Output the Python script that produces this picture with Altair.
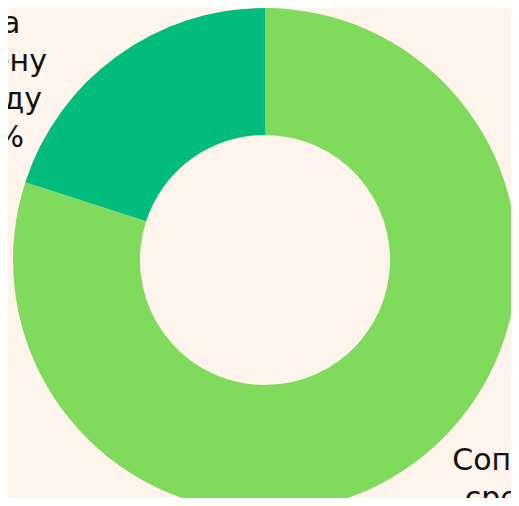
import altair as alt
import pandas as pd
import math

categories = ["Сопровождение\nсреди прочего\n80%", "Два\nзамену\nв виду\n20%"]
values = [80, 20]
colors = ["#80DA5B", "#02BC7D"]

df = pd.DataFrame({"label": categories, "value": values, "order": [0, 1]})

base = alt.Chart(df).encode(
    theta=alt.Theta("value:Q", stack=True),
    order=alt.Order("order:Q"),
    x=alt.value(257),
    y=alt.value(252),
)

arcs = base.mark_arc(outerRadius=252, innerRadius=125, stroke=None).encode(
    color=alt.Color("label:N", scale=alt.Scale(domain=categories, range=colors), legend=None)
)


def label_layer(idx, radius, offset):
    return base.mark_text(
        radius=radius, font="DejaVu Sans", fontSize=30, lineHeight=38, color="#111111",
        align="center", baseline="middle", lineBreak="\n"
    ).encode(
        theta=alt.Theta("value:Q", stack=True,
                        scale=alt.Scale(range=[offset, 2 * math.pi + offset])),
        text=alt.condition(f"datum.order == {idx}", "label:N", alt.value("")),
    )


text_small = label_layer(1, 362, -0.232)
text_big = label_layer(0, 374, -0.375)

chart = alt.layer(arcs, text_small, text_big).resolve_scale(theta="independent").properties(
    width=503, height=490, padding=0, autosize="none", background="#FEF4EB"
).configure_view(stroke=None)

chart.save("out.html", embed_options={"renderer": "svg", "actions": False})
